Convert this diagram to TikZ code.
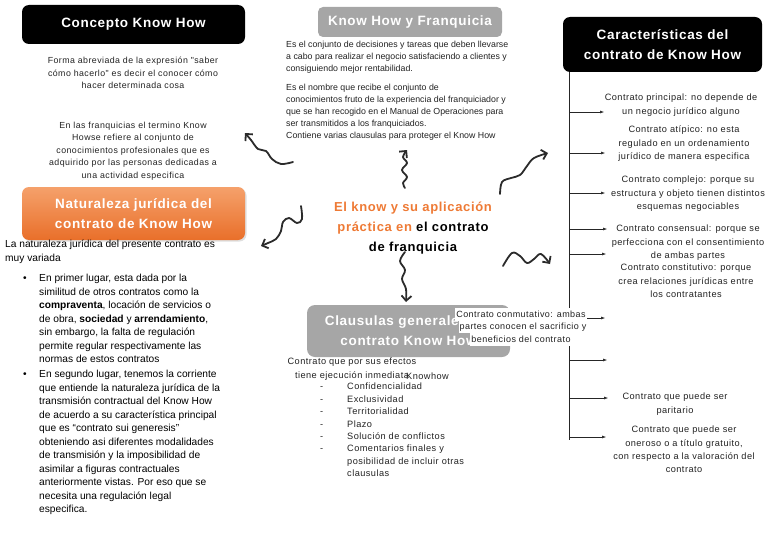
\documentclass[tikz,border=0pt]{standalone}
\usepackage{fontspec}
\setmainfont{Liberation Sans}
\newfontfamily\spaced[LetterSpace=5]{Liberation Sans}
\newfontfamily\heavy[LetterSpace=5]{Liberation Sans}
\usepackage{xcolor}
\definecolor{KHOrange}{HTML}{EE7A35}
\definecolor{KHOrangeTop}{HTML}{F5A16B}
\definecolor{KHOrangeBot}{HTML}{E96F2A}
\definecolor{KHGray}{HTML}{A6A6A6}
\definecolor{KHInk}{HTML}{2B2B2B}
\definecolor{KHText}{HTML}{222222}
\usetikzlibrary{arrows.meta,positioning,shadows}
\newcommand{\hl}[1]{\textcolor{KHOrange}{#1}}
\newcommand{\guion}{\makebox[0pt][r]{-\hspace{24pt}}}

\begin{document}
\begin{tikzpicture}[x=1pt,y=-1pt,
  head/.style={rounded corners=7pt,text=white,align=center,inner sep=0pt,font=\heavy\fontsize{13.5}{20}\selectfont\bfseries},
  note/.style={align=center,inner sep=0pt,text=KHText,font=\spaced\fontsize{8.8}{12.4}\selectfont},
  side/.style={align=center,inner sep=0pt,text=KHText,font=\spaced\fontsize{9.2}{13.3}\selectfont},
  plain/.style={align=left,inner sep=0pt,text=KHText,font=\fontsize{8.8}{12}\selectfont},
  body/.style={align=left,inner sep=0pt,text=black,font=\fontsize{10.2}{13.5}\selectfont},
  items/.style={align=left,inner sep=0pt,text=KHText,font=\spaced\fontsize{9.2}{12.4}\selectfont},
  conm/.style={fill=white,inner xsep=1pt,inner ysep=0pt,minimum height=12.6pt,text=KHText,font=\spaced\fontsize{9}{12}\selectfont},
  branch/.style={-{Latex[length=4pt,width=3pt]},line width=0.5pt,black!85},
  squig/.style={-{Straight Barb[length=5pt,width=10pt]},line width=1.8pt,KHInk,line cap=round,line join=round}
]
  \useasboundingbox (0,0) rectangle (768,543);

  % headers
  \node[head,fill=black,minimum width=223pt,minimum height=39pt] (concepto) at (133.5,24.5) {Concepto Know How};
  \node[head,fill=KHGray,rounded corners=5pt,minimum width=184pt,minimum height=30pt] (franq) at (410,22) {Know How y Franquicia};
  \node[head,fill=black,minimum width=199pt,minimum height=55pt] (caract) at (662.5,44.5) {Características del\\contrato de Know How};
  \node[head,top color=KHOrangeTop,bottom color=KHOrangeBot,draw=none,minimum width=223pt,minimum height=53pt,
        drop shadow={opacity=0.25,shadow xshift=1.5pt,shadow yshift=-1.5pt}] (natur) at (133.5,213.5) {Naturaleza jurídica del\\contrato de Know How};

  % concepto
  \node[note,anchor=north] (forma) at (133,57) {Forma abreviada de la expresión "saber\\cómo hacerlo" es decir el conocer cómo\\hacer determinada cosa};
  \node[note,anchor=north] (termino) at (133,122) {En las franquicias el termino Know\\Howse refiere al conjunto de\\conocimientos profesionales que es\\adquirido por las personas dedicadas a\\una actividad especifica};

  % know how y franquicia
  \node[plain,anchor=north west] (fq1) at (286,41) {Es el conjunto de decisiones y tareas que deben llevarse\\a cabo para realizar el negocio satisfaciendo a clientes y\\consiguiendo mejor rentabilidad.};
  \node[plain,anchor=north west] (fq2) at (286,84) {Es el nombre que recibe el conjunto de\\conocimientos fruto de la experiencia del franquiciador y\\que se han recogido en el Manual de Operaciones para\\ser transmitidos a los franquiciados.};
  \node[plain,anchor=north west] (fq3) at (286,132) {Contiene varias clausulas para proteger el Know How};

  % naturaleza juridica
  \node[body,anchor=north west] (variada) at (5,240) {La naturaleza jurídica del presente contrato es\\muy variada};
  \node[body,anchor=center] (dot1) at (25,279) {\textbullet};
  \node[body,anchor=north west] (prim) at (39,274) {En primer lugar, esta dada por la\\similitud de otros contratos como la\\\textbf{compraventa}, locación de servicios o\\de obra, \textbf{sociedad} y \textbf{arrendamiento},\\sin embargo, la falta de regulación\\permite regular respectivamente las\\normas de estos contratos};
  \node[body,anchor=center] (dot2) at (25,375) {\textbullet};
  \node[body,anchor=north west] (segu) at (39,370) {En segundo lugar, tenemos la corriente\\que entiende la naturaleza jurídica de la\\transmisión contractual del Know How\\de acuerdo a su característica principal\\que es “contrato sui generesis”\\obteniendo asi diferentes modalidades\\de transmisión y la imposibilidad de\\asimilar a figuras contractuales\\anteriormente vistas. Por eso que se\\necesita una regulación legal\\especifica.};

  % centro
  \node[align=center,inner sep=0pt,anchor=north,font=\heavy\fontsize{13}{20}\selectfont\bfseries] (titulo) at (413,202)
    {\hl{El know y su aplicación}\\\hl{práctica en} el contrato\\de franquicia};

  % clausulas
  \node[head,fill=KHGray,rounded corners=8pt,minimum width=203pt,minimum height=52pt] (claus) at (408.5,331) {Clausulas generales del\\contrato Know How};
  \node[side,anchor=north] (efectos) at (352,358) {Contrato que por sus efectos\\tiene ejecución inmediata};
  \node[side,anchor=west] (knowhow) at (406,376) {Knowhow};
  \node[items,anchor=north west] (lista) at (347,383)
    {\guion Confidencialidad\\\guion Exclusividad\\\guion Territorialidad\\\guion Plazo\\\guion Solución de conflictos\\\guion Comentarios finales y\\posibilidad de incluir otras\\clausulas};

  % caracteristicas
  \coordinate (spinebot) at (569,440);
  \draw[line width=0.5pt,black!85] (caract.south -| spinebot) -- (spinebot);
  \coordinate (s1) at (569,112); \coordinate (t1) at (604,112);
  \coordinate (s2) at (569,153); \coordinate (t2) at (605,153);
  \coordinate (s3) at (569,193); \coordinate (t3) at (605,193);
  \coordinate (s4) at (569,229); \coordinate (t4) at (607,229);
  \coordinate (s5) at (569,254); \coordinate (t5) at (606,254);
  \coordinate (s6) at (569,318); \coordinate (t6) at (605,318);
  \coordinate (s7) at (569,360); \coordinate (t7) at (607,360);
  \coordinate (s8) at (569,398); \coordinate (t8) at (608,398);
  \coordinate (s9) at (569,437); \coordinate (t9) at (606,437);
  \draw[branch] (s1) -- (t1);
  \draw[branch] (s2) -- (t2);
  \draw[branch] (s3) -- (t3);
  \draw[branch] (s4) -- (t4);
  \draw[branch] (s5) -- (t5);
  \draw[branch] (s6) -- (t6);
  \draw[branch] (s7) -- (t7);
  \draw[branch] (s8) -- (t8);
  \draw[branch] (s9) -- (t9);

  \node[side,anchor=north] (princ) at (681,94) {Contrato principal: no depende de\\un negocio jurídico alguno};
  \node[side,anchor=north] (atip) at (684,126) {Contrato atípico: no esta\\regulado en un ordenamiento\\jurídico de manera especifica};
  \node[side,anchor=north] (compl) at (688,176) {Contrato complejo: porque su\\estructura y objeto tienen distintos\\esquemas negociables};
  \node[side,anchor=north] (consen) at (688,225) {Contrato consensual: porque se\\perfecciona con el consentimiento\\de ambas partes};
  \node[side,anchor=north] (const) at (686,264) {Contrato constitutivo: porque\\crea relaciones jurídicas entre\\los contratantes};
  \node[side,anchor=north] (parit) at (675,393) {Contrato que puede ser\\paritario};
  \node[side,anchor=north] (oner) at (684,426) {Contrato que puede ser\\oneroso o a título gratuito,\\con respecto a la valoración del\\contrato};

  % conmutativo, sobre la caja gris
  \node[conm] (conm1) at (521,314.5) {Contrato conmutativo: ambas};
  \node[conm] (conm2) at (523,327.1) {partes conocen el sacrificio y};
  \node[conm] (conm3) at (521,339.7) {beneficios del contrato};

  % flechas a mano
  \draw[squig] plot[smooth,tension=0.6] coordinates {(293,162) (281,164) (272,159) (266,151) (258,149) (251,140) (245,133)};
  \draw[squig] plot[smooth,tension=0.6] coordinates {(301,206) (302,219) (297,223) (289,218) (283,222) (281,231) (276,239) (268,243) (261,246)};
  \draw[squig] plot[smooth,tension=0.6] coordinates {(405,188) (403,183) (407,177) (402,170) (407,163) (403,157) (407,150)};
  \draw[squig] plot[smooth,tension=0.6] coordinates {(405,252) (400,261) (405,270) (402,279) (406,289) (406,302)};
  \draw[squig] plot[smooth,tension=0.6] coordinates {(500,194) (502,182) (511,178) (520,175) (527,166) (534,158) (548,153)};
  \draw[squig] plot[smooth,tension=0.6] coordinates {(503,266) (512,253) (520,256) (527,263) (534,259) (541,254) (550,264)};
\end{tikzpicture}
\end{document}
